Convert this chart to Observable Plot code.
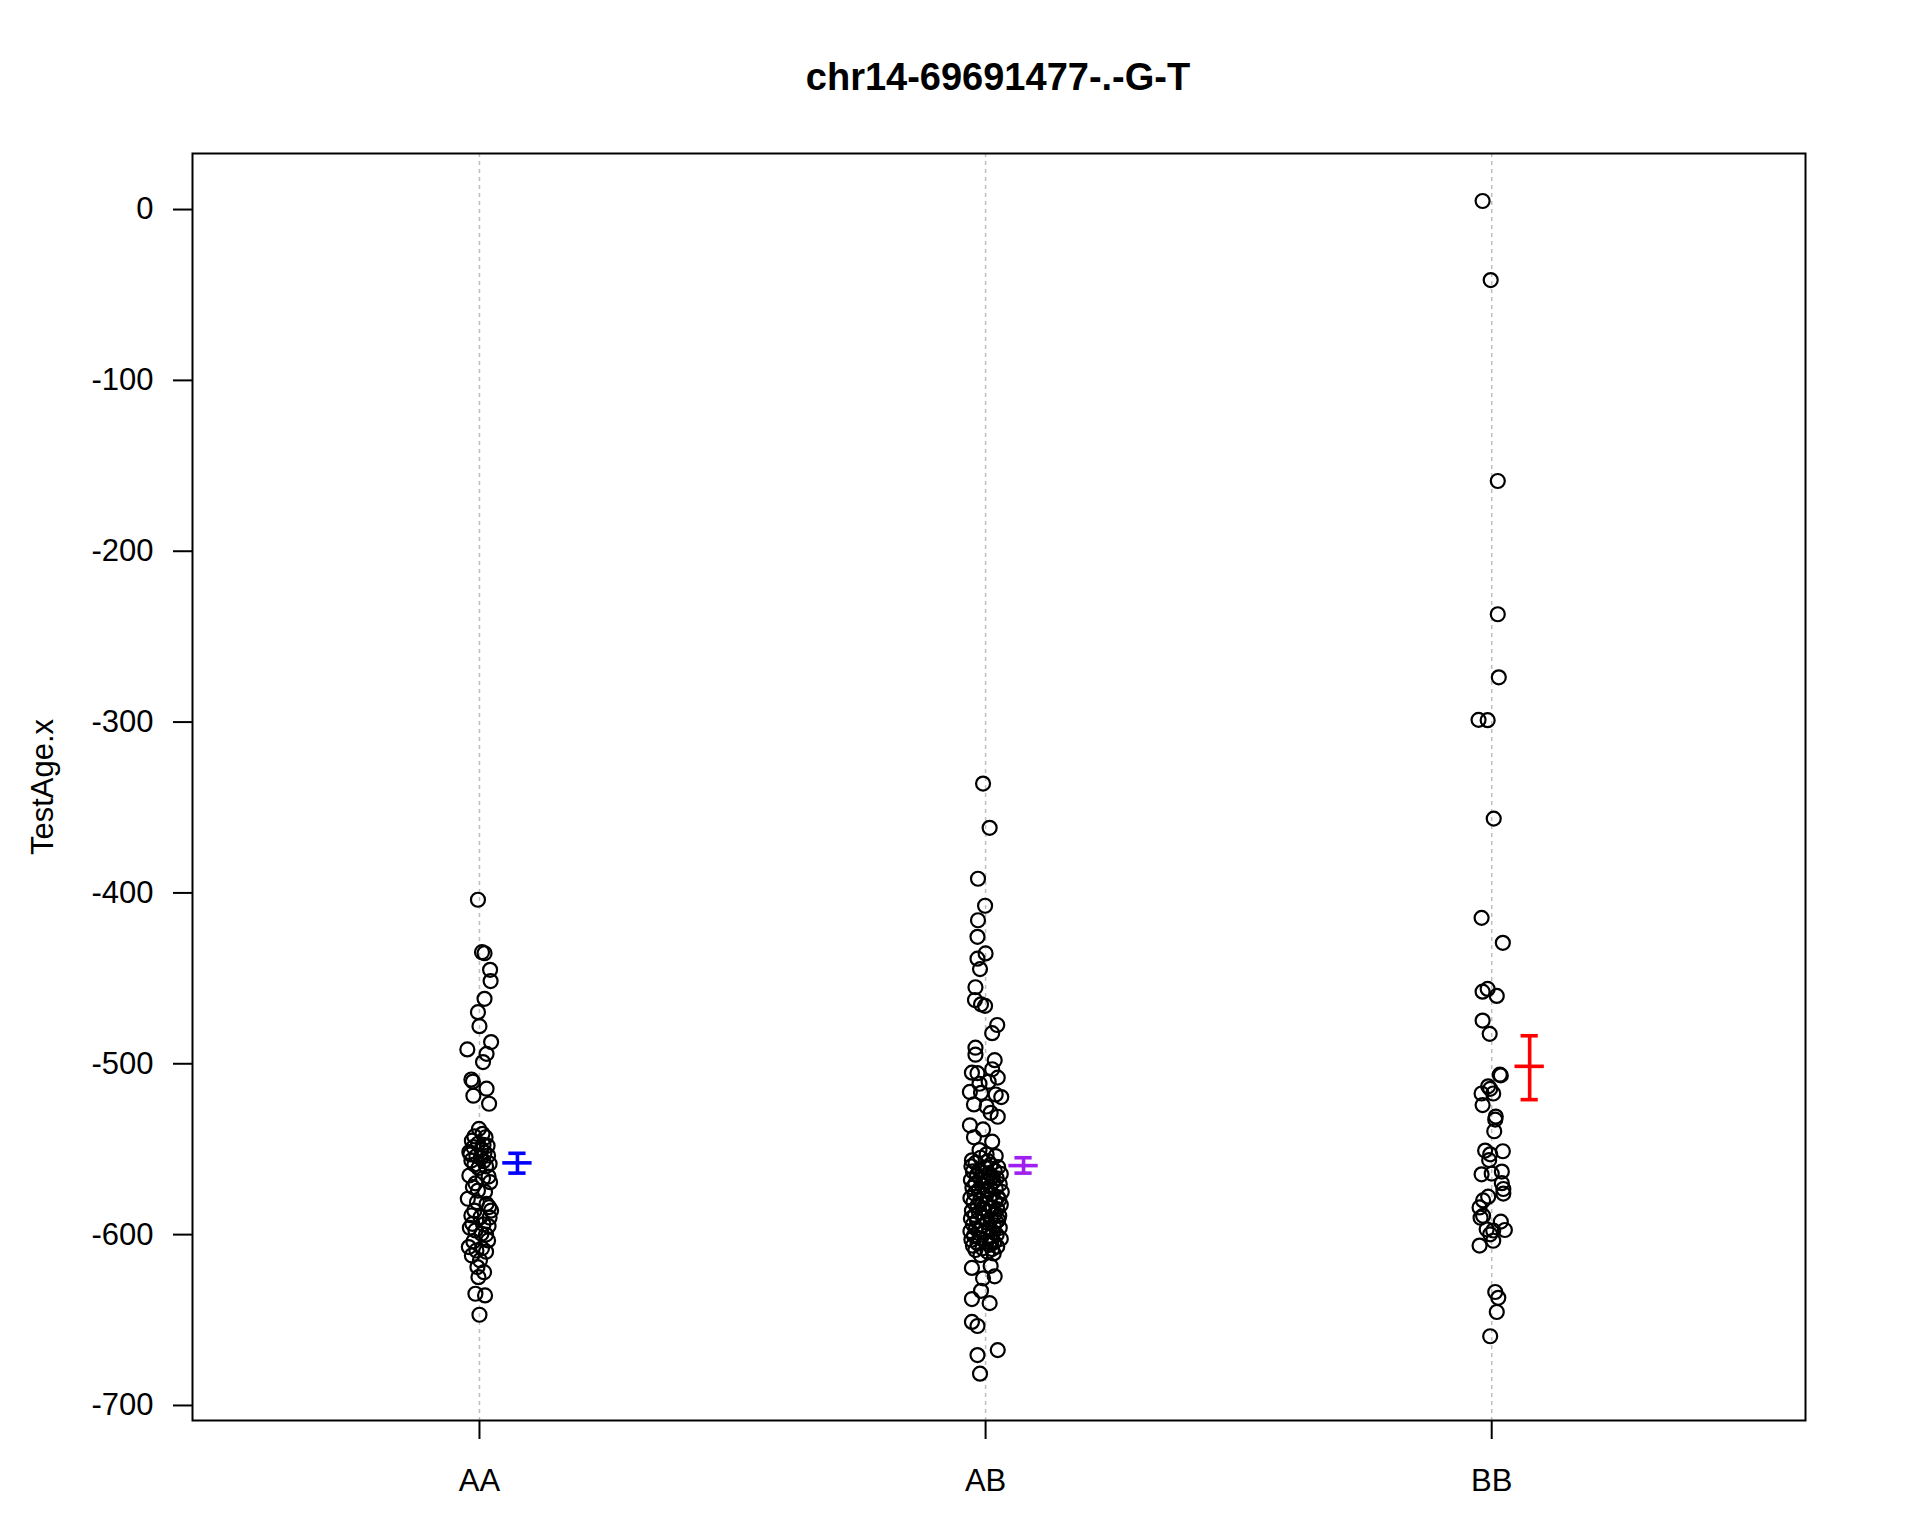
<!DOCTYPE html>
<html>
<head>
<meta charset="utf-8">
<script src="https://cdn.jsdelivr.net/npm/d3@7"></script>
<script src="https://cdn.jsdelivr.net/npm/@observablehq/plot@0.6"></script>
<style>
  html, body { margin: 0; padding: 0; background: #fff; }
  #wrap { width: 1920px; height: 1536px; font-family: "Liberation Sans", Arial, sans-serif; }
  #title { height: 110px; box-sizing: border-box; padding-left: 76px; text-align: center;
           font-weight: bold; font-size: 38px; line-height: 38px; padding-top: 58px; color: #000; }
</style>
</head>
<body>
<div id="wrap">
  <div id="title">chr14-69691477-.-G-T</div>
  <div id="chart"></div>
</div>
<script>
const title = "chr14-69691477-.-G-T";
const yLabel = "TestAge.x";
const categories = ["AA", "AB", "BB"];
const yTicks = [0, -100, -200, -300, -400, -500, -600, -700];

// [TestAge.x, horizontal jitter in category units]
const aaPoints = [
  [-404,-0.003],[-434.7,0.005],[-435.3,0.010],[-445,0.021],[-451.6,0.022],[-462,0.010],
  [-469.8,-0.003],[-478,0.000],[-487.3,0.023],[-491.6,-0.024],[-494.2,0.014],[-499,0.007],
  [-509.2,-0.016],[-510.4,-0.013],[-514.6,0.014],[-518.7,-0.012],[-523.4,0.019],
  [-538.1,-0.001],[-541,0.006],[-542.5,-0.010],[-543,0.012],[-545,-0.015],[-546.8,-0.003],
  [-547.5,0.008],[-548,0.016],[-548.8,-0.012],[-550,0.004],[-551.7,-0.020],[-552,0.010],
  [-553,-0.018],[-553.7,0.017],[-554,-0.006],[-555,0.003],[-556.6,-0.016],[-557,0.008],
  [-558.5,0.020],[-559,-0.010],[-560,0.013],[-561,-0.002],[-565.4,-0.020],[-566,0.018],
  [-567,0.007],[-569.3,0.021],[-570,-0.008],[-572.2,-0.013],[-574.2,-0.003],[-575,0.011],
  [-579,-0.023],[-581,-0.005],[-582,0.014],[-583.9,0.019],[-585.9,0.023],[-586,-0.010],
  [-588.8,-0.016],[-589.8,0.002],[-590,0.020],[-593.7,-0.014],[-594,0.008],[-595,0.018],
  [-596,-0.019],[-597.6,-0.008],[-599.5,0.004],[-600,0.013],[-603.4,0.017],[-604,-0.012],
  [-607.3,-0.021],[-608,0.005],[-609.3,-0.006],[-610,0.013],[-612.2,-0.015],[-615,0.001],
  [-619,-0.004],[-622,0.009],[-624.9,-0.002],[-634.6,-0.008],[-635.6,0.011],[-646.9,0.000]
];

const abPoints = [
  [-336,-0.005],[-361.9,0.008],[-391.7,-0.015],[-407.5,-0.001],[-416,-0.015],[-425.7,-0.016],
  [-435.4,0.000],[-438.5,-0.016],[-444.6,-0.011],[-455.2,-0.020],[-462.7,-0.021],[-465.2,-0.009],
  [-466.1,-0.001],[-477.3,0.023],[-482.1,0.013],[-490.6,-0.020],[-494.7,-0.020],[-497.9,0.018],
  [-503.2,0.013],[-505.2,-0.027],[-505.5,-0.016],[-508.1,0.024],[-510.5,0.006],[-511.7,-0.012],
  [-516.5,-0.031],[-517,-0.009],[-519.5,0.031],[-518,0.020],[-523.8,-0.023],[-525,0.002],
  [-528.7,0.010],[-531,0.024],[-536,-0.031],[-538.4,-0.005],[-543,-0.023],[-545.6,0.013],
  [-550.5,-0.012],[-553,0.002],[-554,0.020],[-555,-0.010],[-556.5,-0.027],[-557,0.005],
  [-558,-0.020],[-559,0.010],[-560,-0.028],[-560.5,0.025],[-561,0.000],[-562,-0.012],
  [-562.5,0.018],[-563,-0.025],[-564,0.006],[-564.5,0.030],[-565,-0.017],[-566,0.012],
  [-566.5,-0.005],[-567,0.022],[-567.5,-0.010],[-568,-0.029],[-568.5,0.002],[-569,0.015],
  [-570,-0.020],[-570.5,0.028],[-571,-0.008],[-572,0.009],[-572.5,-0.026],[-573,0.020],
  [-573.5,0.000],[-574,-0.014],[-574.5,0.004],[-575,0.032],[-576,-0.022],[-576.5,0.013],
  [-577,-0.003],[-578,0.024],[-578.5,-0.030],[-579,0.008],[-579.5,0.027],[-580,-0.011],
  [-580.5,0.019],[-581,-0.024],[-582,0.001],[-582.5,0.030],[-583,-0.016],[-584,0.014],
  [-584.5,-0.006],[-585,0.023],[-585.5,-0.002],[-586,-0.027],[-586.5,0.006],[-587,-0.013],
  [-588,0.018],[-588.5,-0.021],[-589,0.027],[-590,-0.002],[-590.5,-0.029],[-591,0.011],
  [-591.5,0.025],[-592,-0.017],[-592.5,0.021],[-593,0.003],[-594,-0.025],[-594.5,0.016],
  [-595,-0.008],[-596,0.028],[-596.5,-0.019],[-597,0.007],[-597.5,-0.012],[-598,-0.030],
  [-598.5,0.015],[-599,-0.004],[-600,0.022],[-600.5,-0.023],[-601,0.010],[-602,-0.012],
  [-602.5,0.030],[-603,-0.028],[-603.5,0.012],[-604,0.002],[-604.5,0.017],[-605,-0.016],
  [-606,0.008],[-606.5,-0.025],[-607,0.023],[-608,-0.006],[-608.5,0.013],[-609,-0.020],
  [-610,0.004],[-611,0.016],[-612,-0.010],
  [-619.5,-0.027],[-618.3,0.010],[-625.6,-0.005],[-624.4,0.018],[-632.9,-0.009],
  [-637.7,-0.027],[-640.1,0.008],[-651.1,-0.027],[-653.5,-0.016],[-667.6,0.024],
  [-670.5,-0.016],[-681.4,-0.011]
];

const bbPoints = [
  [5,-0.018],[-41.3,-0.002],[-158.9,0.012],[-236.9,0.012],[-273.8,0.014],[-298.7,-0.026],
  [-298.9,-0.008],[-356.5,0.004],[-414.6,-0.020],[-429.2,0.022],[-456.2,-0.008],[-457.8,-0.018],
  [-460.3,0.010],[-474.7,-0.018],[-482.5,-0.004],[-506.4,0.016],[-506.8,0.018],[-513.2,-0.007],
  [-517.4,-0.020],[-517.4,0.003],[-514.7,-0.003],[-524.2,-0.018],[-530.9,0.008],[-532.7,0.007],
  [-539.5,0.005],[-550.8,-0.013],[-551.2,0.022],[-553,-0.003],[-556.4,-0.005],[-564.7,-0.020],
  [-563.1,0.020],[-564.3,0.000],[-569.9,0.020],[-573.3,0.023],[-576,0.023],[-577.8,-0.007],
  [-580,-0.017],[-584.1,-0.024],[-589,-0.017],[-590.1,-0.022],[-592.4,0.018],[-597.3,0.026],
  [-596.9,-0.010],[-597.6,0.003],[-599.8,-0.003],[-603.6,0.003],[-606.4,-0.024],[-633.6,0.007],
  [-637,0.013],[-645.3,0.010],[-659.5,-0.003]
];

const groupMean  = [-558.0, -559.6, -501.5];
const groupLower = [-564.0, -564.0, -521.0];
const groupUpper = [-552.4, -555.0, -483.6];
const groupColor = ["#0000FF", "#A020F0", "#FF0000"];

// build table for the library
const pointGroups = [aaPoints, abPoints, bbPoints];
const points = pointGroups.flatMap((arr, i) =>
  arr.map(([v, j]) => ({group: categories[i], x: i + 1 + j, y: v})));
const BAR_OFFSET = 0.075, MEAN_HW = 0.029, CAP_HW = 0.017;
const bars = categories.map((c, i) => ({
  group: c, x: i + 1 + BAR_OFFSET, mean: groupMean[i], lo: groupLower[i], hi: groupUpper[i], color: groupColor[i]
}));

const plot = Plot.plot({
  width: 1920,
  height: 1426,
  marginTop: 43,
  marginBottom: 116,
  marginLeft: 192,
  marginRight: 115,
  style: {fontFamily: "'Liberation Sans', Arial, sans-serif", fontSize: "31px", background: "#fff", color: "#000"},
  x: {type: "linear", domain: [0.433, 3.62]},
  y: {domain: [-708.8, 32.8]},
  marks: [
    Plot.ruleX([1, 2, 3], {stroke: "#bdbdbd", strokeWidth: 1.5, strokeDasharray: "4,4"}),
    Plot.dot(points, {x: "x", y: "y", r: 7, stroke: "#000", strokeWidth: 2.2, fill: "none"}),
    Plot.ruleX(bars, {x: "x", y1: "lo", y2: "hi", stroke: "color", strokeWidth: 3.6}),
    Plot.ruleY(bars, {y: "mean", x1: d => d.x - MEAN_HW, x2: d => d.x + MEAN_HW, stroke: "color", strokeWidth: 3.6}),
    Plot.ruleY(bars, {y: "lo", x1: d => d.x - CAP_HW, x2: d => d.x + CAP_HW, stroke: "color", strokeWidth: 3.6}),
    Plot.ruleY(bars, {y: "hi", x1: d => d.x - CAP_HW, x2: d => d.x + CAP_HW, stroke: "color", strokeWidth: 3.6}),
    Plot.axisX({ticks: [1, 2, 3], tickFormat: d => categories[d - 1], tickSize: 19, tickPadding: 29,
                fontSize: 31, strokeWidth: 2, label: null}),
    Plot.axisY({ticks: yTicks, tickFormat: d => String(d), tickSize: 19, tickPadding: 20,
                fontSize: 31, strokeWidth: 2, label: null}),
    Plot.text([yLabel], {frameAnchor: "left", text: d => d, rotate: -90, dx: -149,
                         fontSize: 31, fill: "#000", textAnchor: "middle", lineAnchor: "middle"}),
    Plot.frame({stroke: "#000", strokeWidth: 2})
  ]
});
document.getElementById("chart").appendChild(plot);
</script>
</body>
</html>
